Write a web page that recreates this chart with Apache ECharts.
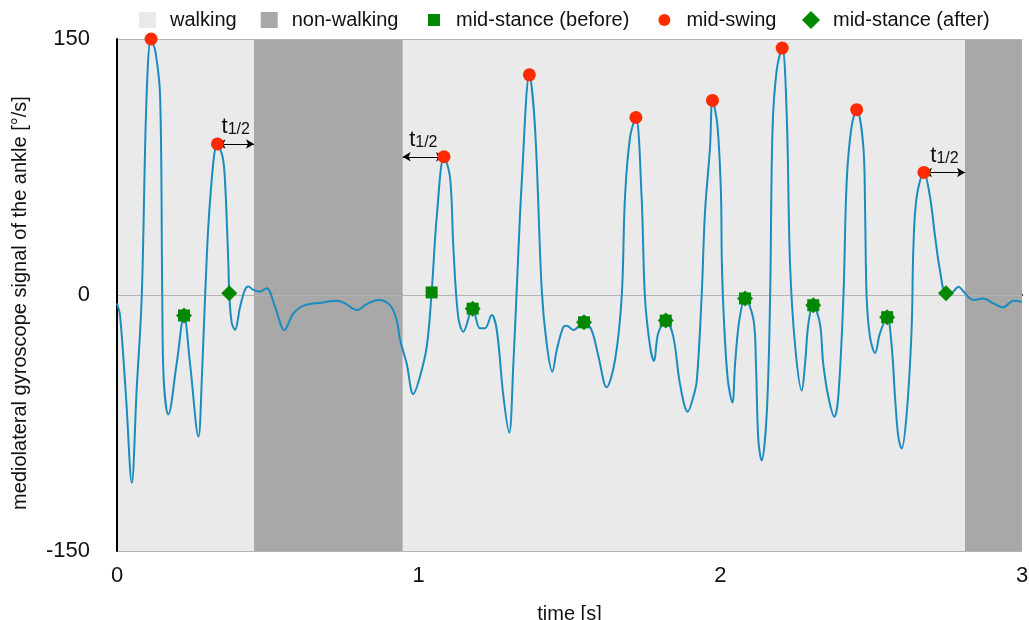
<!DOCTYPE html>
<html>
<head>
<meta charset="utf-8">
<script src="https://cdn.jsdelivr.net/npm/echarts@6/dist/echarts.min.js"></script>
<style>
    html, body { margin: 0; padding: 0; background: #fff; }
    #chart { width: 1029px; height: 620px; }
</style>
</head>
<body>
<div id="chart"></div>
<script>
// gyroscope signal
var time = [0.000, 0.010, 0.030, 0.049, 0.065, 0.082, 0.098, 0.113, 0.128, 0.143, 0.150, 0.155, 0.170, 0.198, 0.222, 0.242, 0.270, 0.281, 0.292, 0.308, 0.333, 0.350, 0.358, 0.369, 0.372, 0.380, 0.391, 0.408, 0.424, 0.435, 0.452, 0.474, 0.496, 0.524, 0.555, 0.585, 0.623, 0.678, 0.728, 0.756, 0.795, 0.828, 0.866, 0.905, 0.927, 0.938, 0.960, 0.982, 1.004, 1.027, 1.043, 1.060, 1.084, 1.104, 1.115, 1.131, 1.148, 1.179, 1.203, 1.220, 1.242, 1.259, 1.281, 1.300, 1.314, 1.325, 1.342, 1.367, 1.386, 1.408, 1.424, 1.443, 1.458, 1.479, 1.491, 1.513, 1.548, 1.573, 1.596, 1.623, 1.651, 1.673, 1.684, 1.701, 1.720, 1.739, 1.750, 1.767, 1.780, 1.794, 1.819, 1.844, 1.866, 1.892, 1.910, 1.922, 1.938, 1.949, 1.966, 1.974, 1.990, 2.002, 2.005, 2.012, 2.025, 2.040, 2.049, 2.063, 2.082, 2.110, 2.118, 2.126, 2.137, 2.154, 2.165, 2.173, 2.187, 2.205, 2.220, 2.231, 2.248, 2.270, 2.281, 2.292, 2.308, 2.330, 2.341, 2.358, 2.378, 2.391, 2.408, 2.419, 2.435, 2.452, 2.474, 2.480, 2.485, 2.496, 2.513, 2.529, 2.553, 2.568, 2.579, 2.590, 2.601, 2.618, 2.634, 2.640, 2.651, 2.675, 2.695, 2.712, 2.728, 2.748, 2.772, 2.789, 2.811, 2.839, 2.872, 2.905, 2.938, 2.971, 3.000];
var gyro = [-5, -12, -60, -110, -56, -1, 116, 150, 142, 116, 0, -50, -70, -40, -12, -40, -83, -50, -1, 54, 88.5, 81, 67, 19, 1, -16, -20.5, -7, 3, 5, 3, 2, 4, -7, -20.5, -10.7, -5.9, -4.5, -3.3, -4.9, -8.8, -5.3, -2.9, -5.9, -14.6, -26, -40, -58, -48, -30, 1.5, 46, 81, 69, 28, -12.7, -21.5, -8, -19.5, -19.5, -11.7, -20.5, -59.6, -80.7, -40, 3, 67, 129, 97, 3, -28, -45, -32, -19, -18, -20.5, -16, -20.5, -36, -54, -38, -1, 57.6, 92.8, 104, 57.6, -1, -30, -38.7, -22.5, -15, -24.4, -51.8, -68.4, -60, -50, -1, 48, 87, 114, 100, 60, 20, -15, -50, -63, -40, -14.6, -2, -14.6, -40, -85, -97, -69, -1, 97, 132, 144.7, 106, 18.6, -30, -56, -40, -16.6, -6, -16.6, -40, -59.6, -71.3, -59.6, -1, 67, 98.6, 108.6, 87, 48, -1, -24.4, -34, -22.5, -13, -30, -59.6, -83, -90, -69, -20.5, 28, 57.6, 71.8, 57.6, 34, 14.6, 1, 2, 4.9, 1, -2.9, -2, -4.9, -7.2, -3.3, -3.9];

// detected events
var swingTime = [0.113, 0.333, 1.084, 1.367, 1.720, 1.974, 2.205, 2.452, 2.675];
var swingValue = [150, 88.5, 81, 129, 104, 114, 144.7, 108.6, 71.8];
var stanceBeforeTime = [0.222, 1.043, 1.179, 1.548, 1.819, 2.082, 2.308, 2.553];
var stanceBeforeValue = [-12, 1.5, -8, -16, -15, -2, -6, -13];
var stanceAfterTime = [0.222, 0.372, 1.179, 1.548, 1.819, 2.082, 2.308, 2.553, 2.748];
var stanceAfterValue = [-12, 1, -8, -16, -15, -2, -6, -13, 1];

// walking / non-walking bouts [start, end]
var walking = [[0, 0.454], [0.947, 2.811]];
var nonWalking = [[0.454, 0.947], [2.811, 3]];

// t1/2 arrows [from, to, level]
var halfArrows = [[0.333, 0.454, 88.5], [0.947, 1.084, 81], [2.675, 2.811, 71.8]];

function pairs(xs, ys) {
    var l = [];
    for (var i = 0; i < xs.length; i++) {
        l.push([xs[i], ys[i]]);
    }
    return l;
}

function areas(spans) {
    var l = [];
    for (var i = 0; i < spans.length; i++) {
        l.push([{xAxis: spans[i][0]}, {xAxis: spans[i][1]}]);
    }
    return l;
}

function arrows(list) {
    var l = [];
    for (var i = 0; i < list.length; i++) {
        l.push([{coord: [list[i][0], list[i][2]]}, {coord: [list[i][1], list[i][2]]}]);
    }
    return l;
}

var FONT = '"Liberation Sans", Arial, sans-serif';
var LIGHT = '#eaeaea';
var DARK = '#a8a8a8';
var GREEN = '#008800';
var RED = '#ff2a00';
var BLUE = '#1a8cbf';

function legendText(pad) {
    return {fontSize: 20, color: '#111', fontFamily: FONT, padding: [0, 0, 0, pad]};
}

var myChart = echarts.init(document.getElementById('chart'));
var option = {
    animation: false,
    textStyle: {fontFamily: FONT},
    legend: [
        {
            left: 134, top: 5, itemWidth: 17, itemHeight: 16, itemGap: 24,
            textStyle: legendText(9),
            data: [
                {name: 'walking', icon: 'rect', itemStyle: {color: LIGHT}},
                {name: 'non-walking', icon: 'rect', itemStyle: {color: DARK}}
            ]
        },
        {
            left: 423, top: 5, itemWidth: 12, itemHeight: 12, itemGap: 29,
            textStyle: legendText(11),
            data: [
                {name: 'mid-stance (before)', icon: 'rect', itemStyle: {color: GREEN}},
                {name: 'mid-swing', icon: 'circle', itemStyle: {color: RED}}
            ]
        },
        {
            left: 797, top: 5, itemWidth: 18, itemHeight: 18, itemGap: 22,
            textStyle: legendText(8),
            data: [
                {name: 'mid-stance (after)', icon: 'diamond', itemStyle: {color: GREEN}}
            ]
        }
    ],
    grid: {left: 117, right: 7, top: 39, bottom: 69, containLabel: false, outerBoundsMode: 'none'},
    xAxis: {
        type: 'value',
        min: 0,
        max: 3,
        interval: 1,
        name: 'time [s]',
        nameLocation: 'middle',
        nameGap: 53,
        nameTextStyle: {fontSize: 20, color: '#111', fontFamily: FONT},
        axisLine: {show: true, lineStyle: {color: '#000', width: 2}},
        axisTick: {show: false},
        axisLabel: {fontSize: 22, color: '#111', margin: 14, fontFamily: FONT},
        splitLine: {show: false}
    },
    yAxis: {
        type: 'value',
        min: -150,
        max: 150,
        interval: 150,
        z: 3,
        name: 'mediolateral gyroscope signal of the ankle [°/s]',
        nameLocation: 'middle',
        nameGap: 87,
        nameTextStyle: {fontSize: 20, color: '#111', fontFamily: FONT, padding: [0, 16, 0, 0]},
        axisLine: {show: true, lineStyle: {color: '#000', width: 2}},
        axisTick: {show: false},
        axisLabel: {fontSize: 22, color: '#111', margin: 27, fontFamily: FONT},
        splitLine: {show: true, lineStyle: {color: '#b4b4b4', width: 1}}
    },
    series: [
        {
            name: 'walking',
            type: 'line',
            z: 1,
            data: [],
            itemStyle: {color: LIGHT},
            lineStyle: {color: LIGHT},
            markArea: {silent: true, itemStyle: {color: LIGHT}, data: areas(walking)}
        },
        {
            name: 'non-walking',
            type: 'line',
            z: 1,
            data: [],
            itemStyle: {color: DARK},
            lineStyle: {color: DARK},
            markArea: {silent: true, itemStyle: {color: DARK}, data: areas(nonWalking)}
        },
        {
            name: 'signal',
            type: 'line',
            z: 4,
            data: pairs(time, gyro),
            smooth: 0.35,
            showSymbol: false,
            lineStyle: {color: BLUE, width: 2},
            itemStyle: {color: BLUE},
            markLine: {
                silent: true,
                symbol: ['arrow', 'arrow'],
                symbolSize: [7, 8],
                lineStyle: {color: '#000', width: 1.2, type: 'solid'},
                label: {
                    show: true,
                    position: 'middle',
                    distance: 6,
                    formatter: '{t|t}{s|1/2}',
                    rich: {
                        t: {fontSize: 22, color: '#111', fontFamily: FONT, verticalAlign: 'bottom', lineHeight: 24},
                        s: {fontSize: 16, color: '#111', fontFamily: FONT, verticalAlign: 'bottom', lineHeight: 17}
                    }
                },
                data: arrows(halfArrows)
            }
        },
        {
            name: 'mid-stance (before)',
            type: 'scatter',
            z: 5,
            symbol: 'rect',
            symbolSize: 12,
            itemStyle: {color: GREEN, opacity: 1},
            data: pairs(stanceBeforeTime, stanceBeforeValue)
        },
        {
            name: 'mid-stance (after)',
            type: 'scatter',
            z: 5,
            symbol: 'diamond',
            symbolSize: 16,
            itemStyle: {color: GREEN, opacity: 1},
            data: pairs(stanceAfterTime, stanceAfterValue)
        },
        {
            name: 'mid-swing',
            type: 'scatter',
            z: 6,
            symbol: 'circle',
            symbolSize: 13,
            itemStyle: {color: RED, opacity: 1},
            data: pairs(swingTime, swingValue)
        }
    ]
};
myChart.setOption(option);
</script>
</body>
</html>
